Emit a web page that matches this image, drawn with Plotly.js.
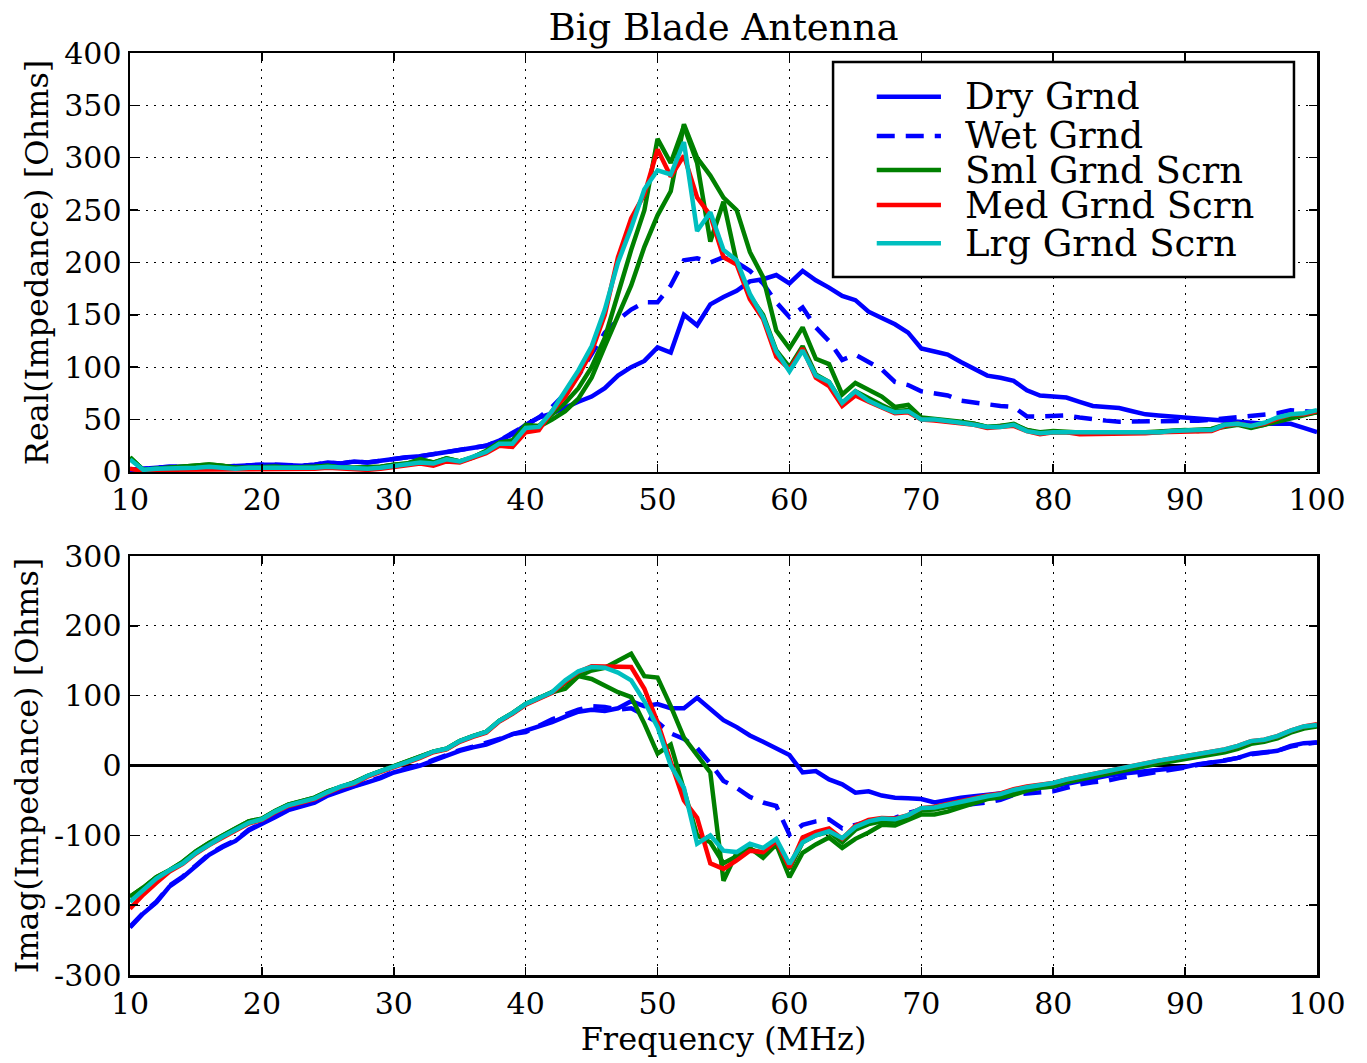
<!DOCTYPE html>
<html>
<head>
<meta charset="utf-8">
<script src="https://cdn.plot.ly/plotly-3.0.1.min.js"></script>
<style>html,body{margin:0;padding:0;background:#fff;}#chart{width:1367px;height:1063px;}</style>
</head>
<body>
<div id="chart"></div>
<script>
// Frequency (MHz)
var freq = [10,11,12,13,14,15,16,17,18,19,
            20,21,22,23,24,25,26,27,28,29,
            30,31,32,33,34,35,36,37,38,39,
            40,41,42,43,44,45,46,47,48,49,
            50,51,52,53,54,55,56,57,58,59,
            60,61,62,63,64,65,66,67,68,69,
            70,71,72,73,74,75,76,77,78,79,
            80,81,82,83,84,85,86,87,88,89,
            90,91,92,93,94,95,96,97,98,99,
            100];

// Real(Impedance) [Ohms]
var realDry = [2,3,5,5,5,6,6,5,6,7,
               7,7,6,6,7,9,8,10,9,11,
               13,14,15,17,18,20,22,25,30,36,
               45,52,56,62,67,72,80,92,100,106,
               119,114,150,140,160,167,173,182,184,188,
               180,192,183,176,168,164,153,147,141,133,
               118,115,112,105,98,92,90,87,78,73,
               72,71,67,63,62,61,58,55,54,53,
               51,50,49,48,48,47,46,46,46,42,
               38];
var realWet = [2,3,5,5,5,6,6,5,6,7,
               7,7,6,6,7,9,8,10,9,11,
               13,14,15,17,18,20,22,25,30,37,
               45,52,62,75,92,113,133,145,155,162,
               162,178,202,204,200,205,200,192,180,162,
               148,157,138,125,107,112,105,98,86,83,
               77,75,73,68,66,64,63,62,53,53,
               54,54,52,50,49,48,48,48,48,48,
               49,49,50,51,52,53,54,56,59,58,
               57];
var realSml = [14,2,3,4,4,5,7,6,4,4,
               5,5,4,4,5,6,4,4,4,5,
               7,8,12,9,13,10,14,20,28,30,
               45,44,55,66,80,100,128,170,212,250,
               318,295,330,295,220,258,200,168,150,116,
               100,120,93,86,66,77,70,64,58,59,
               51,50,49,47,46,43,44,45,40,37,
               38,38,37,37,37,37,38,38,38,39,
               40,40,41,45,46,43,45,50,54,55,
               57];
var realSml2 = [14,2,3,4,4,5,7,6,4,4,
                5,5,4,4,5,6,4,4,4,5,
                7,8,12,9,13,10,14,20,28,30,
                42,43,50,58,70,90,120,150,178,215,
                245,268,332,300,283,262,250,210,186,135,
                118,138,108,103,74,85,78,72,62,64,
                52,51,50,48,46,43,44,46,40,38,
                39,38,37,37,37,38,38,38,39,39,
                40,39,41,44,45,42,45,49,52,54,
                57];
var realMed = [3,1,2,2,3,3,3,3,2,3,
               3,3,2,2,3,4,3,2,2,3,
               5,6,8,6,10,9,13,18,25,24,
               38,40,58,72,92,115,150,205,242,265,
               308,282,302,262,245,205,198,165,146,110,
               98,118,90,82,63,73,67,62,56,57,
               50,49,48,46,45,42,43,44,39,36,
               38,38,36,36,36,36,37,37,38,38,
               39,39,39,44,46,44,46,51,55,55,
               58];
var realLrg = [12,2,3,3,4,4,5,4,3,4,
               4,4,3,3,4,5,4,3,3,4,
               6,7,9,8,12,10,14,19,27,27,
               42,43,58,78,97,120,155,200,233,270,
               288,284,315,230,248,212,202,170,148,115,
               96,116,92,86,66,77,68,62,57,58,
               50,50,49,47,45,43,43,45,39,37,
               38,38,37,37,37,37,38,38,38,39,
               40,40,40,45,46,44,47,52,55,56,
               59];

// Imag(Impedance) [Ohms]
var imagDry = [-232,-212,-196,-173,-160,-143,-128,-117,-108,-93,
               -84,-74,-64,-58,-53,-43,-36,-30,-24,-18,
               -10,-5,0,7,14,21,26,30,37,45,
               50,56,62,70,77,80,78,82,92,85,
               88,82,82,97,80,65,55,43,34,24,
               15,-10,-8,-20,-27,-39,-37,-43,-46,-47,
               -48,-53,-49,-46,-44,-42,-40,-38,-34,-31,
               -30,-26,-22,-18,-15,-12,-10,-8,-6,-4,
               -2,2,4,7,11,17,19,21,28,32,
               33];
var imagWet = [-231,-211,-195,-172,-159,-142,-127,-116,-107,-92,
               -83,-73,-63,-57,-52,-42,-35,-29,-23,-17,
               -9,-4,1,8,15,22,27,32,38,45,
               48,57,66,73,80,85,84,80,82,72,
               62,46,38,25,3,-22,-32,-45,-53,-58,
               -99,-85,-80,-77,-90,-85,-80,-76,-75,-68,
               -63,-61,-60,-58,-56,-53,-49,-42,-40,-38,
               -37,-32,-27,-24,-22,-18,-15,-13,-9,-6,
               -3,1,4,7,11,16,19,21,27,31,
               33];
var imagSml = [-188,-175,-160,-150,-138,-123,-111,-100,-90,-80,
               -76,-65,-56,-51,-46,-37,-30,-24,-15,-8,
               -2,5,12,20,24,35,42,48,64,75,
               88,96,105,118,128,124,115,105,98,60,
               17,30,-35,-100,-110,-140,-130,-120,-125,-108,
               -148,-110,-100,-95,-110,-92,-84,-80,-80,-75,
               -64,-63,-59,-54,-50,-46,-43,-37,-33,-30,
               -28,-22,-18,-14,-10,-6,-2,2,5,8,
               11,15,18,21,26,33,36,41,49,55,
               58];
var imagSml2 = [-188,-175,-160,-150,-138,-123,-111,-100,-90,-80,
                -76,-65,-56,-51,-46,-37,-30,-24,-15,-8,
                -2,5,12,20,24,35,42,48,64,75,
                88,96,105,110,128,136,140,150,160,128,
                126,85,40,15,-10,-165,-125,-118,-132,-113,
                -160,-125,-113,-103,-118,-105,-96,-85,-86,-78,
                -70,-70,-66,-60,-54,-48,-46,-42,-36,-32,
                -30,-24,-20,-16,-12,-8,-4,0,3,6,
                9,13,16,19,24,31,34,39,47,53,
                56];
var imagMed = [-205,-185,-168,-152,-141,-126,-114,-103,-93,-83,
               -78,-67,-58,-53,-48,-39,-31,-26,-16,-9,
               -3,4,11,19,23,34,41,47,63,74,
               87,95,104,120,134,142,142,142,141,110,
               62,5,-50,-75,-140,-148,-136,-122,-124,-108,
               -146,-103,-95,-90,-105,-86,-78,-75,-76,-71,
               -61,-59,-55,-50,-47,-43,-40,-34,-30,-27,
               -25,-20,-16,-12,-8,-4,0,4,7,10,
               13,17,20,23,28,35,37,42,50,56,
               59];
var imagLrg = [-195,-178,-162,-150,-140,-125,-113,-102,-92,-82,
               -77,-66,-57,-52,-47,-38,-30,-25,-15,-8,
               -2,5,12,20,24,35,42,48,64,75,
               88,96,105,122,135,141,140,133,122,92,
               55,0,-32,-112,-100,-122,-124,-112,-118,-105,
               -141,-110,-100,-94,-104,-88,-80,-76,-77,-71,
               -61,-60,-56,-51,-48,-44,-41,-35,-31,-28,
               -25,-20,-16,-12,-8,-4,0,4,7,10,
               13,17,20,23,28,35,37,42,50,56,
               58];

// Tick labels
var xTicks = [10,20,30,40,50,60,70,80,90,100];
var xTickText = ["10","20","30","40","50","60","70","80","90","100"];
var yTopTicks = [0,50,100,150,200,250,300,350,400];
var yTopText = ["0","50","100","150","200","250","300","350","400"];
var yBotTicks = [-300,-200,-100,0,100,200,300];
var yBotText = ["-300","-200","-100","0","100","200","300"];

// Legend entries
var names = ["Dry Grnd","Wet Grnd","Sml Grnd Scrn","Med Grnd Scrn","Lrg Grnd Scrn"];

var BLUE = "#0000ff", GREEN = "#008000", RED = "#ff0000", CYAN = "#00bfbf";
var colors = [BLUE, BLUE, GREEN, RED, CYAN];
var WETDASH = "18px,11px";
var dashes = ["solid", WETDASH, "solid", "solid", "solid"];
var LW = 4.5;

function tr(y, name, color, dash, xa, ya) {
  return {x: freq, y: y, type: "scatter", mode: "lines", name: name,
          line: {color: color, width: LW, dash: dash || "solid"},
          xaxis: xa, yaxis: ya, showlegend: false, hoverinfo: "skip"};
}

var data = [
  tr(realDry, names[0], BLUE, "solid", "x", "y"),
  tr(realWet, names[1], BLUE, WETDASH, "x", "y"),
  tr(realSml2, names[2], GREEN, "solid", "x", "y"),
  tr(realSml, names[2], GREEN, "solid", "x", "y"),
  tr(realMed, names[3], RED, "solid", "x", "y"),
  tr(realLrg, names[4], CYAN, "solid", "x", "y"),
  tr(imagDry, names[0], BLUE, "solid", "x2", "y2"),
  tr(imagWet, names[1], BLUE, WETDASH, "x2", "y2"),
  tr(imagSml2, names[2], GREEN, "solid", "x2", "y2"),
  tr(imagSml, names[2], GREEN, "solid", "x2", "y2"),
  tr(imagMed, names[3], RED, "solid", "x2", "y2"),
  tr(imagLrg, names[4], CYAN, "solid", "x2", "y2")
];

var FONT = "DejaVu Serif";
var GRIDDASH = "2px,6px";
function xax(anchor, withTitle) {
  var a = {anchor: anchor, domain: [0, 1], range: [10, 100],
    tickmode: "array", tickvals: xTicks, ticktext: xTickText,
    ticks: "inside", ticklen: 8, tickwidth: 1.5, tickcolor: "black",
    mirror: "allticks", showline: true, linecolor: "black", linewidth: 2.5,
    showgrid: true, gridcolor: "black", gridwidth: 1, griddash: GRIDDASH,
    zeroline: false, tickfont: {family: FONT, size: 30, color: "black"}};
  if (withTitle) a.title = {text: "Frequency (MHz)", font: {family: FONT, size: 32, color: "black"}, standoff: 4};
  return a;
}
function yax(anchor, dom, rng, tv, tt, title, zero) {
  return {anchor: anchor, domain: dom, range: rng,
    tickmode: "array", tickvals: tv, ticktext: tt,
    ticks: "inside", ticklen: 8, tickwidth: 1.5, tickcolor: "black",
    mirror: "allticks", showline: true, linecolor: "black", linewidth: 2.5,
    showgrid: true, gridcolor: "black", gridwidth: 1, griddash: GRIDDASH,
    zeroline: zero, zerolinecolor: "black", zerolinewidth: 2.5,
    tickfont: {family: FONT, size: 30, color: "black"},
    title: {text: title, font: {family: FONT, size: 32, color: "black"}, standoff: 6}};
}

// Hand-built legend (box, line samples, labels) in paper coordinates
var LEG = {x0: 0.5923, x1: 0.9806, y0: 0.7570, y1: 0.9902,
           lineX0: 0.6291, lineX1: 0.6832, textX: 0.7020,
           rows: [0.9526, 0.9100, 0.8731, 0.8351, 0.7936]};
var shapes = [{type: "rect", xref: "paper", yref: "paper",
               x0: LEG.x0, x1: LEG.x1, y0: LEG.y0, y1: LEG.y1,
               line: {color: "black", width: 2.5}, fillcolor: "white", layer: "above"}];
var annotations = [];
for (var i = 0; i < names.length; i++) {
  shapes.push({type: "line", xref: "paper", yref: "paper",
               x0: LEG.lineX0, x1: LEG.lineX1, y0: LEG.rows[i], y1: LEG.rows[i],
               line: {color: colors[i], width: LW, dash: dashes[i]}, layer: "above"});
  annotations.push({xref: "paper", yref: "paper", x: LEG.textX, y: LEG.rows[i],
                    xanchor: "left", yanchor: "middle", showarrow: false,
                    text: names[i], font: {family: FONT, size: 37, color: "black"}});
}

var layout = {
  width: 1367, height: 1063,
  margin: {l: 130, r: 50, t: 53, b: 88},
  paper_bgcolor: "white", plot_bgcolor: "white",
  font: {family: FONT, size: 30, color: "black"},
  title: {text: "Big Blade Antenna", font: {family: FONT, size: 37, color: "black"},
          x: 0.5, xref: "paper", y: 0.975, yref: "container", yanchor: "middle"},
  xaxis: xax("y", false),
  yaxis: yax("x", [0.5456, 1], [0, 400], yTopTicks, yTopText, "Real(Impedance) [Ohms]", false),
  xaxis2: xax("y2", true),
  yaxis2: yax("x2", [0, 0.4544], [-300, 300], yBotTicks, yBotText, "Imag(Impedance) [Ohms]", true),
  showlegend: false,
  shapes: shapes,
  annotations: annotations
};

Plotly.newPlot("chart", data, layout, {displayModeBar: false, staticPlot: true});
</script>
</body>
</html>
